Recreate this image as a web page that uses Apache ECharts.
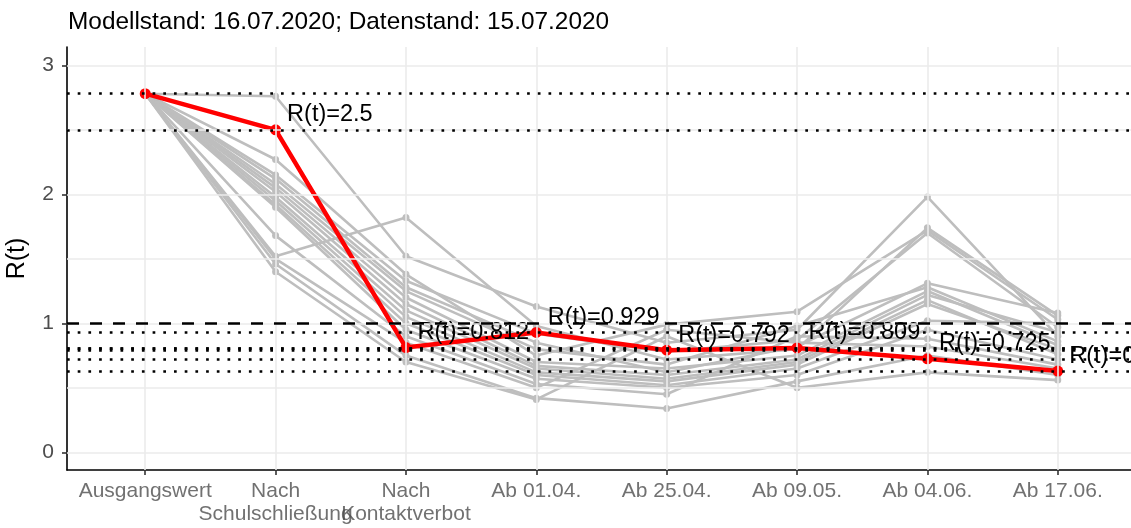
<!DOCTYPE html>
<html>
<head>
<meta charset="utf-8">
<script src="https://cdn.jsdelivr.net/npm/echarts@6/dist/echarts.min.js"></script>
<style>
  html, body { margin: 0; padding: 0; background: #fff; }
  #chart { width: 1131px; height: 528px; }
</style>
</head>
<body>
<div id="chart"></div>
<script>
// Phases of the reproduction number estimate
const categories = ['Ausgangswert', 'Nach\nSchulschließung', 'Nach\nKontaktverbot',
  'Ab 01.04.', 'Ab 25.04.', 'Ab 09.05.', 'Ab 04.06.', 'Ab 17.06.'];

// Germany (highlighted)
const germany = [2.78, 2.5, 0.812, 0.929, 0.792, 0.809, 0.725, 0.63];

// Federal states (grey background lines)
const state01 = [2.78, 2.76, 1.52, 1.13, 0.85, 0.95, 1.98, 0.90];
const state02 = [2.78, 1.52, 1.82, 0.98, 0.72, 0.80, 1.74, 1.06];
const state03 = [2.78, 2.27, 1.38, 0.75, 0.99, 1.09, 1.72, 1.03];
const state04 = [2.78, 2.15, 1.33, 0.92, 0.78, 0.87, 1.70, 0.97];
const state05 = [2.78, 2.12, 1.28, 0.85, 0.62, 0.82, 1.31, 1.08];
const state06 = [2.78, 2.08, 1.25, 0.80, 0.68, 0.98, 1.28, 0.86];
const state07 = [2.78, 2.05, 1.20, 0.70, 0.65, 0.75, 1.25, 0.83];
const state08 = [2.78, 2.02, 1.15, 0.67, 0.60, 0.72, 1.22, 0.93];
const state09 = [2.78, 1.98, 1.10, 0.65, 0.57, 0.70, 1.18, 0.76];
const state10 = [2.78, 1.95, 1.05, 0.62, 0.55, 0.68, 1.15, 0.80];
const state11 = [2.78, 1.92, 1.00, 0.60, 0.52, 0.65, 1.02, 1.00];
const state12 = [2.78, 1.90, 0.95, 0.57, 0.50, 0.60, 0.95, 0.72];
const state13 = [2.78, 1.68, 0.90, 0.53, 0.45, 0.90, 0.88, 0.68];
const state14 = [2.78, 1.50, 0.85, 0.50, 0.95, 0.85, 0.82, 0.65];
const state15 = [2.78, 1.46, 0.75, 0.42, 0.34, 0.55, 0.75, 0.60];
const state16 = [2.78, 1.40, 0.70, 0.41, 0.90, 0.50, 0.62, 0.56];
const states = [state01, state02, state03, state04, state05, state06, state07, state08,
  state09, state10, state11, state12, state13, state14, state15, state16];

const yTicks = [0, 1, 2, 3];
const yGrid = [0, 0.5, 1, 1.5, 2, 2.5, 3];
const threshold = 1;

const FONT = '"Liberation Sans", Arial, sans-serif';
const Y_MIN = -0.137, Y_MAX = 3.142;
const xIdx = categories.map((_, i) => i);
const toPairs = arr => arr.map((v, i) => [i, v]);

const series = [];

// background panel grid
series.push({
  type: 'line', data: [], z: 0, silent: true,
  markLine: {
    silent: true, symbol: 'none', label: { show: false },
    lineStyle: { color: '#EBEBEB', width: 1.6, type: 'solid' },
    emphasis: { disabled: true },
    data: yGrid.map(v => ({ yAxis: v })).concat(xIdx.map(i => ({ xAxis: i })))
  }
});

states.forEach((s, k) => {
  series.push({
    type: 'line', name: 'state' + (k + 1), data: toPairs(s), z: 1, silent: true,
    symbol: 'circle', symbolSize: 7,
    lineStyle: { color: '#BEBEBE', width: 2.6 },
    itemStyle: { color: '#BEBEBE' },
    emphasis: { disabled: true }
  });
});

series.push({
  type: 'line', name: 'Deutschland', z: 2, silent: true,
  data: germany.map((v, i) => ({
    value: [i, v],
    label: { show: i > 0 }
  })),
  symbol: 'circle', symbolSize: 11,
  lineStyle: { color: '#FF0000', width: 4.5 },
  itemStyle: { color: '#FF0000' },
  emphasis: { disabled: true },
  label: {
    position: 'right', distance: 6, offset: [0, -15],
    color: '#000', fontFamily: FONT, fontSize: 23.5,
    formatter: p => 'R(t)=' + p.value[1]
  }
});

// reference lines: one dotted line per value, dashed at R = 1
series.push({
  type: 'line', data: [], z: 3, silent: true,
  markLine: {
    silent: true, symbol: 'none', label: { show: false },
    emphasis: { disabled: true },
    data: germany.map(v => ({
      yAxis: v,
      lineStyle: { color: '#000', width: 2.7, type: [2.7, 8], cap: 'butt' }
    })).concat([{
      yAxis: threshold,
      lineStyle: { color: '#000', width: 2.7, type: [12, 11], cap: 'butt' }
    }])
  }
});

// category labels below the x axis, one per phase
series.push({
  type: 'scatter', z: 4, silent: true, clip: false,
  symbolSize: 0,
  data: xIdx.map(i => [i, Y_MIN]),
  label: {
    show: true, position: 'bottom', distance: 10,
    color: '#4D4D4D', fontFamily: FONT, fontSize: 21, lineHeight: 23, align: 'center',
    formatter: p => categories[p.dataIndex]
  },
  emphasis: { disabled: true }
});

const chart = echarts.init(document.getElementById('chart'), null, { renderer: 'canvas' });
chart.setOption({
  animation: false,
  backgroundColor: '#fff',
  title: {
    text: 'Modellstand: 16.07.2020; Datenstand: 15.07.2020',
    left: 63, top: 5,
    textStyle: { fontFamily: FONT, fontSize: 24.4, fontWeight: 'normal', color: '#000' }
  },
  grid: {
    left: 67, top: 47, right: -5, bottom: 58,
    containLabel: false, outerBoundsMode: 'none'
  },
  xAxis: {
    type: 'value', min: -0.6, max: 7.6,
    splitLine: { show: false },
    axisLine: { show: true, onZero: false, lineStyle: { color: '#000', width: 1.6 } },
    axisTick: { show: true, customValues: xIdx, length: 5, lineStyle: { color: '#333', width: 1.6 } },
    axisLabel: { show: false }
  },
  yAxis: {
    type: 'value', min: Y_MIN, max: Y_MAX,
    name: 'R(t)', nameLocation: 'middle', nameRotate: 90, nameGap: 37,
    nameTextStyle: { fontFamily: FONT, fontSize: 25, color: '#000' },
    splitLine: { show: false },
    axisLine: { show: true, onZero: false, lineStyle: { color: '#000', width: 1.6 } },
    axisTick: { show: true, customValues: yTicks, length: 5, lineStyle: { color: '#333', width: 1.6 } },
    axisLabel: {
      customValues: yTicks, margin: 13, showMinLabel: true, showMaxLabel: true,
      color: '#4D4D4D', fontFamily: FONT, fontSize: 21
    }
  },
  series: series
});
</script>
</body>
</html>
